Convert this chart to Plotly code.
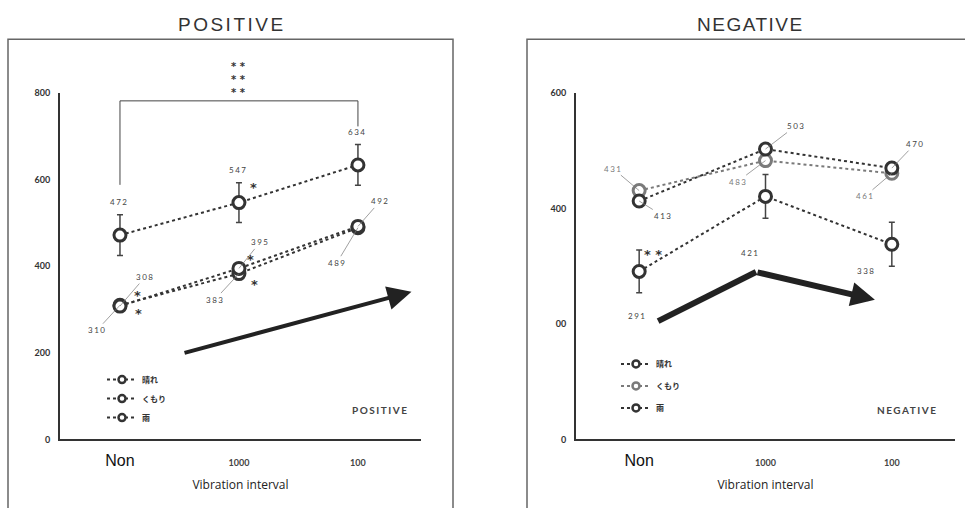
import plotly.graph_objects as go

# ---------------- data ----------------
categories = ["Non", "1000", "100"]
series_names = ["晴れ", "くもり", "雨"]

pos_hare = [308, 395, 492]
pos_kumori = [310, 383, 489]
pos_ame = [472, 547, 634]
pos_ame_err = [47, 46, 47]

neg_hare = [413, 503, 470]
neg_kumori = [431, 483, 461]
neg_ame = [291, 421, 338]
neg_ame_err = [37, 38, 38]

pos_yticks = [0, 200, 400, 600, 800]
pos_yticklabels = ["0", "200", "400", "600", "800"]
neg_yticks = [0, 200, 400, 600]
neg_yticklabels = ["0", "00", "400", "600"]

# bracket (y levels) over POSITIVE 雨 series, Non vs 100
bracket_top = 782
bracket_left_end = 588
bracket_right_end = 723

# trend arrows (data units: x index, y value)
pos_trend = [(0.53, 199), (2.45, 341)]
neg_trend = [(0.15, 205), (0.925, 290), (1.866, 242)]

x_idx = list(range(len(categories)))

DARK = "#333333"
GRAY = "#7a7a7a"
NUMFONT = dict(family="Lato", size=8, color="#444444")

fig = go.Figure()


def add_series(xa, ya, vals, color, err=None):
    tr = go.Scatter(
        x=x_idx, y=vals, mode="lines+markers", xaxis=xa, yaxis=ya,
        line=dict(color=color, width=2, dash="dot"),
        marker=dict(symbol="circle", size=12, color="white",
                    line=dict(color=color, width=3)),
        showlegend=False, hoverinfo="skip", cliponaxis=False,
    )
    if err is not None:
        tr.error_y = dict(type="data", array=err, color="#444444",
                          thickness=1.5, width=3)
    fig.add_trace(tr)


# POSITIVE
add_series("x", "y", pos_ame, DARK, pos_ame_err)
add_series("x", "y", pos_kumori, DARK)
add_series("x", "y", pos_hare, DARK)
# NEGATIVE
add_series("x2", "y2", neg_ame, DARK, neg_ame_err)
add_series("x2", "y2", neg_kumori, GRAY)
add_series("x2", "y2", neg_hare, DARK)

# legend entries
pos_leg_colors = [DARK, DARK, DARK]
neg_leg_colors = [DARK, GRAY, DARK]
for name, col in zip(series_names, pos_leg_colors):
    fig.add_trace(go.Scatter(
        x=[None], y=[None], xaxis="x", yaxis="y", mode="lines+markers", name=name,
        line=dict(color=col, width=2, dash="dot"),
        marker=dict(symbol="circle", size=7, color="white", line=dict(color=col, width=2.5)),
        legend="legend", legendgroup="p" + name))
for name, col in zip(series_names, neg_leg_colors):
    fig.add_trace(go.Scatter(
        x=[None], y=[None], xaxis="x2", yaxis="y2", mode="lines+markers", name=name,
        line=dict(color=col, width=2, dash="dot"),
        marker=dict(symbol="circle", size=7, color="white", line=dict(color=col, width=2.5)),
        legend="legend2", legendgroup="n" + name))

ann = []


def sp(t):
    return "<span style='letter-spacing:1.5px'>%s</span>" % t


def lead_label(xr, yr, i, v, ax, ay, color="#444444"):
    ann.append(dict(xref=xr, yref=yr, x=x_idx[i], y=v, ax=ax, ay=ay,
                    text=sp(str(v)), showarrow=True, arrowhead=0,
                    arrowwidth=0.7, arrowcolor="#777777", standoff=0,
                    font=dict(NUMFONT, color=color)))


def plain_label(xr, yr, i, v, dx, dy, color="#444444"):
    ann.append(dict(xref=xr, yref=yr, x=x_idx[i], y=v, xshift=dx, yshift=dy,
                    yanchor="middle", xanchor="center",
                    text=sp(str(v)), showarrow=False, font=dict(NUMFONT, color=color)))


def star(xr, yr, i, v, dx, dy, t="*"):
    ann.append(dict(xref=xr, yref=yr, x=x_idx[i], y=v, xshift=dx, yshift=dy,
                    yanchor="middle", xanchor="center",
                    text=t, showarrow=False,
                    font=dict(family="DejaVu Sans", size=13, color="#333333", weight="bold")))


# POSITIVE labels
for i, v in enumerate(pos_ame):
    plain_label("x", "y", i, v, -1, 33)
lead_label("x", "y", 0, pos_hare[0], 25, -29)
lead_label("x", "y", 1, pos_hare[1], 21, -26)
lead_label("x", "y", 2, pos_hare[2], 22, -25)
lead_label("x", "y", 0, pos_kumori[0], -23, 25)
lead_label("x", "y", 1, pos_kumori[1], -24, 26)
lead_label("x", "y", 2, pos_kumori[2], -21, 35)
star("x", "y", 1, pos_ame[1], 15, 15)
star("x", "y", 1, pos_hare[1], 12, 9)
star("x", "y", 1, pos_kumori[1], 16, -11)
star("x", "y", 0, pos_hare[0], 18, 11)
star("x", "y", 0, pos_kumori[0], 19, -8)
ann.append(dict(xref="x", yref="y", x=1, y=bracket_top, yshift=21, yanchor="middle",
                text="* *<br>* *<br>* *", showarrow=False,
                font=dict(family="DejaVu Sans", size=10, color="#333333", weight="bold")))

# NEGATIVE labels
lead_label("x2", "y2", 0, neg_kumori[0], -26, -22, GRAY)
lead_label("x2", "y2", 1, neg_kumori[1], -28, 21, GRAY)
lead_label("x2", "y2", 2, neg_kumori[2], -27, 23, GRAY)
lead_label("x2", "y2", 0, neg_hare[0], 24, 15)
lead_label("x2", "y2", 1, neg_hare[1], 30, -23)
lead_label("x2", "y2", 2, neg_hare[2], 23, -24)
plain_label("x2", "y2", 0, neg_ame[0], -2, -45)
plain_label("x2", "y2", 1, neg_ame[1], -16, -57)
plain_label("x2", "y2", 2, neg_ame[2], -26, -27)
star("x2", "y2", 0, neg_ame[0], 14, 17, "* *")

# trend arrows
ann.append(dict(xref="x", yref="y", axref="x", ayref="y",
                x=pos_trend[1][0], y=pos_trend[1][1],
                ax=pos_trend[0][0], ay=pos_trend[0][1],
                text="", showarrow=True, arrowhead=2, arrowsize=1.2,
                arrowwidth=4, arrowcolor="#222222"))
ann.append(dict(xref="x2", yref="y2", axref="x2", ayref="y2",
                x=neg_trend[2][0], y=neg_trend[2][1],
                ax=neg_trend[1][0], ay=neg_trend[1][1],
                text="", showarrow=True, arrowhead=2, arrowsize=0.8,
                arrowwidth=6, arrowcolor="#222222"))

# in-panel captions
ann.append(dict(xref="x domain", yref="y domain", x=0.886, y=0.085,
                xanchor="center", yanchor="middle",
                text="<span style='letter-spacing:1.5px'>POSITIVE</span>", showarrow=False,
                font=dict(family="Lato", size=10, color="#444444", weight="bold")))
ann.append(dict(xref="x2 domain", yref="y2 domain", x=0.873, y=0.085,
                xanchor="center", yanchor="middle",
                text="<span style='letter-spacing:1.5px'>NEGATIVE</span>", showarrow=False,
                font=dict(family="Lato", size=10, color="#444444", weight="bold")))

# titles
ann.append(dict(xref="paper", yref="paper", x=232 / 965, y=1 - 19 / 508,
                xanchor="center", yanchor="middle",
                text="<span style='letter-spacing:2.5px'>POSITIVE</span>", showarrow=False,
                font=dict(family="Liberation Sans", size=19, color="#333333")))
ann.append(dict(xref="paper", yref="paper", x=750 / 965, y=1 - 19 / 508,
                xanchor="center", yanchor="middle",
                text="<span style='letter-spacing:1.5px'>NEGATIVE</span>", showarrow=False,
                font=dict(family="Liberation Sans", size=19, color="#333333")))

shapes = [
    # frames
    dict(type="rect", xref="paper", yref="paper", x0=8 / 965, x1=453 / 965,
         y0=-0.05, y1=1 - 34 / 508, line=dict(color="#666666", width=1.5)),
    dict(type="rect", xref="paper", yref="paper", x0=527 / 965, x1=1.05,
         y0=-0.05, y1=1 - 34 / 508, line=dict(color="#666666", width=1.5)),
    # bracket
    dict(type="line", xref="x", yref="y", x0=x_idx[0], x1=x_idx[0],
         y0=bracket_left_end, y1=bracket_top, line=dict(color="#444444", width=1)),
    dict(type="line", xref="x", yref="y", x0=x_idx[0], x1=x_idx[2],
         y0=bracket_top, y1=bracket_top, line=dict(color="#444444", width=1)),
    dict(type="line", xref="x", yref="y", x0=x_idx[2], x1=x_idx[2],
         y0=bracket_top, y1=bracket_right_end, line=dict(color="#444444", width=1)),
    # negative trend first segment
    dict(type="line", xref="x2", yref="y2", x0=neg_trend[0][0], y0=neg_trend[0][1],
         x1=neg_trend[1][0], y1=neg_trend[1][1], line=dict(color="#222222", width=6)),
]

ticktext = ["<span style='font-size:16px;font-family:Liberation Sans;font-weight:normal;color:#111'>Non</span>",
            categories[1], categories[2]]

xcommon = dict(showline=True, linecolor="#333333", linewidth=2, showgrid=False,
               zeroline=False, ticks="", tickvals=x_idx, ticktext=ticktext,
               tickfont=dict(family="Lato", size=9, color="#444444", weight="bold"),
               ticklabelstandoff=14,
               title=dict(text="Vibration interval", standoff=12,
                          font=dict(family="Open Sans", size=12, color="#222222")))
ycommon = dict(showline=True, linecolor="#333333", linewidth=2, showgrid=False,
               zeroline=False, ticks="", ticklabelstandoff=6,
               tickfont=dict(family="Lato", size=9, color="#333333", weight="bold"))

fig.update_layout(
    width=965, height=508, margin=dict(l=0, r=0, t=0, b=0),
    paper_bgcolor="white", plot_bgcolor="white",
    xaxis=dict(xcommon, domain=[60 / 965, 421 / 965], range=[-0.504, 2.53], anchor="y"),
    yaxis=dict(ycommon, domain=[65 / 508, 419 / 508], range=[0, 800],
               tickvals=pos_yticks, ticktext=pos_yticklabels, anchor="x"),
    xaxis2=dict(xcommon, domain=[576 / 965, 955 / 965], range=[-0.5, 2.5], anchor="y2"),
    yaxis2=dict(ycommon, domain=[65 / 508, 419 / 508], range=[0, 600],
                tickvals=neg_yticks, ticktext=neg_yticklabels, anchor="x2"),
    legend=dict(x=102 / 965, y=1 - 367 / 508, xanchor="left", yanchor="top",
                bgcolor="rgba(0,0,0,0)", tracegroupgap=0,
                font=dict(family="Noto Sans CJK JP", size=8, color="#333333", weight="bold")),
    legend2=dict(x=616 / 965, y=1 - 351 / 508, xanchor="left", yanchor="top",
                 bgcolor="rgba(0,0,0,0)", tracegroupgap=3,
                 font=dict(family="Noto Sans CJK JP", size=8, color="#333333", weight="bold")),
    annotations=ann, shapes=shapes, showlegend=True,
)

fig.write_html("out.html")
